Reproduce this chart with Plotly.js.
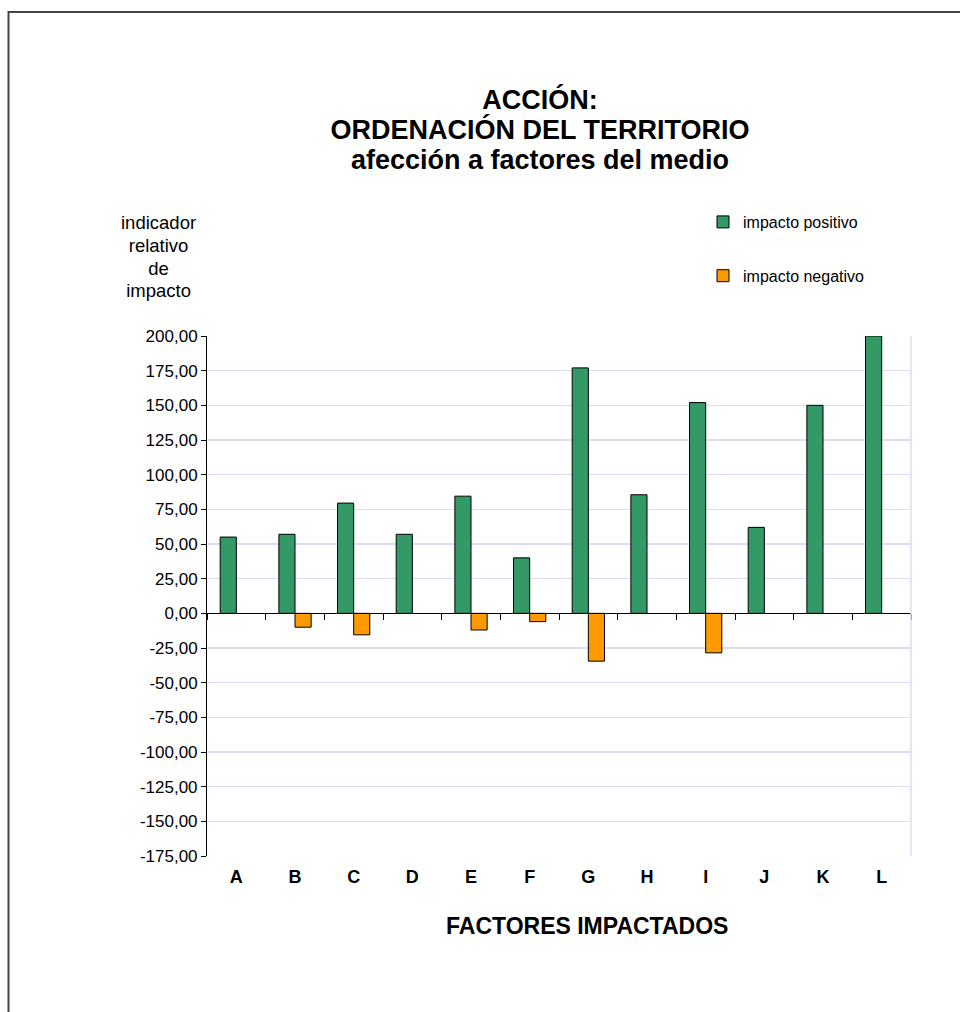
<!DOCTYPE html>
<html>
<head>
<meta charset="utf-8">
<script src="https://cdn.plot.ly/plotly-3.0.1.min.js"></script>
<style>
  html, body { margin: 0; padding: 0; background: #ffffff; }
  #chart { width: 960px; height: 1012px; }
</style>
</head>
<body>
<div id="chart"></div>
<script>
// ---- data ----
const categories = ['A', 'B', 'C', 'D', 'E', 'F', 'G', 'H', 'I', 'J', 'K', 'L'];
const positiveValues = [55, 57, 79.5, 57, 84.5, 40, 177, 85.5, 152, 62, 150, 200];
const negativeValues = [null, -10, -15.5, null, -12, -6, -34.5, null, -28.5, null, null, null];
const seriesNames = ['impacto positivo', 'impacto negativo'];
const yTickValues = [-175, -150, -125, -100, -75, -50, -25, 0, 25, 50, 75, 100, 125, 150, 175, 200];
const yTickLabels = ['-175,00', '-150,00', '-125,00', '-100,00', '-75,00', '-50,00', '-25,00', '0,00',
                     '25,00', '50,00', '75,00', '100,00', '125,00', '150,00', '175,00', '200,00'];
const titleLines = ['ACCIÓN:', 'ORDENACIÓN DEL TERRITORIO', 'afección a factores del medio'];
const yTitleLines = ['indicador', 'relativo', 'de', 'impacto'];
const xTitleText = 'FACTORES IMPACTADOS';

const yMin = yTickValues[0];
const yMax = yTickValues[yTickValues.length - 1];
const zeroPos = (0 - yMin) / (yMax - yMin);

const FONT = 'Liberation Sans, Arial, sans-serif';
const GRID = '#DCDCF6';

// plot area in pixels (for placing decorations in paper coordinates)
const PL = 207, PR = 911, PT = 336, PB = 856;
const px2x = p => (p - PL) / (PR - PL);
const px2y = p => (PB - p) / (PB - PT);

const traces = [
  {
    type: 'bar', x: categories, y: positiveValues, name: seriesNames[0],
    legendgroup: 'pos',
    marker: { color: '#339966', line: { color: '#000000', width: 1 } },
    hoverinfo: 'x+y'
  },
  {
    type: 'bar', x: categories, y: negativeValues, name: seriesNames[1],
    legendgroup: 'neg',
    marker: { color: '#FF9900', line: { color: '#000000', width: 1 } },
    hoverinfo: 'x+y'
  }
];

const layout = {
  width: 960, height: 1012,
  margin: { l: PL, r: 960 - PR, t: PT, b: 1012 - PB, autoexpand: false },
  paper_bgcolor: '#ffffff', plot_bgcolor: '#ffffff',
  font: { family: FONT, color: '#000000' },
  barmode: 'group', bargap: 0.45, bargroupgap: 0,
  title: {
    text: titleLines.map(t => '<span style="font-size:27px">' + t + '</span>').join('<br>'),
    font: { family: FONT, size: 23, color: '#000000', weight: 'bold' },
    xref: 'container', yref: 'container',
    x: 540 / 960, xanchor: 'center',
    y: 1 - 109 / 1012, yanchor: 'top'
  },
  xaxis: {
    type: 'category',
    anchor: 'free', position: zeroPos,
    showline: true, linecolor: '#000000', linewidth: 1,
    ticks: 'outside', tickson: 'boundaries', ticklen: 6, tickcolor: '#000000', tickwidth: 1,
    ticklabelstandoff: 247,
    tickfont: { family: FONT, size: 18, color: '#000000', weight: 'bold' },
    showgrid: false, zeroline: false, fixedrange: true
  },
  yaxis: {
    range: [yMin, yMax],
    tickmode: 'array', tickvals: yTickValues, ticktext: yTickLabels,
    showline: true, linecolor: '#000000', linewidth: 1,
    ticks: 'outside', ticklen: 5, tickcolor: '#000000',
    tickfont: { family: FONT, size: 17, color: '#000000' },
    showgrid: true, gridcolor: GRID, gridwidth: 1.5,
    zeroline: false, fixedrange: true
  },
  legend: {
    xref: 'paper', yref: 'paper',
    x: px2x(703), xanchor: 'left',
    y: px2y(205), yanchor: 'top',
    traceorder: 'grouped', tracegroupgap: 30,
    font: { family: FONT, size: 16, color: '#000000' },
    bgcolor: 'rgba(0,0,0,0)', borderwidth: 0
  },
  annotations: [
    {
      text: yTitleLines.map(t => '<span style="font-size:18.5px">' + t + '</span>').join('<br>'),
      xref: 'paper', yref: 'paper',
      x: px2x(158), y: px2y(256),
      xanchor: 'center', yanchor: 'middle', align: 'center', showarrow: false,
      font: { family: FONT, size: 17.5, color: '#000000' }
    },
    {
      text: xTitleText,
      xref: 'paper', yref: 'paper',
      x: px2x(587), y: px2y(926),
      xanchor: 'center', yanchor: 'middle', showarrow: false,
      font: { family: FONT, size: 23, color: '#000000', weight: 'bold' }
    }
  ],
  shapes: [
    {
      type: 'line', xref: 'paper', yref: 'paper',
      x0: 1, x1: 1, y0: 0, y1: 1,
      line: { color: GRID, width: 1.5 }
    },
    {
      type: 'rect', xref: 'paper', yref: 'paper',
      x0: px2x(8.5), x1: px2x(975),
      y0: px2y(1030), y1: px2y(12),
      line: { color: '#444444', width: 2 }, fillcolor: 'rgba(0,0,0,0)'
    }
  ],
  showlegend: true
};

Plotly.newPlot('chart', traces, layout, { displayModeBar: false, staticPlot: true });
</script>
</body>
</html>
